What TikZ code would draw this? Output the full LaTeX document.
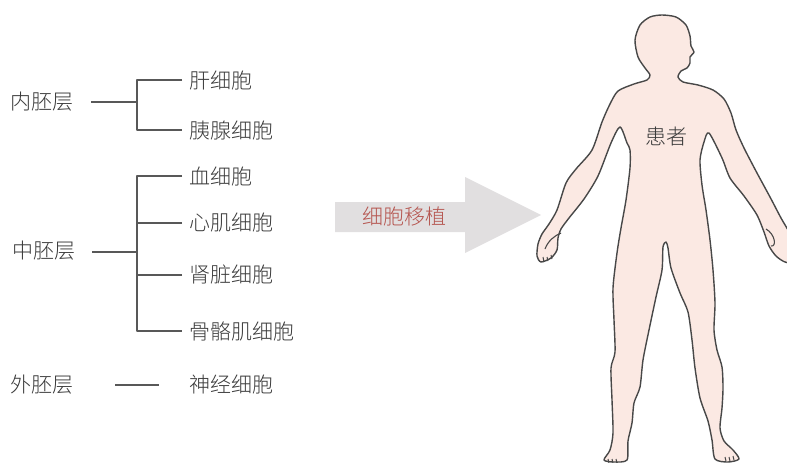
\documentclass[tikz,border=0pt]{standalone}
\usepackage{fontspec}
\newfontfamily\cjkfont{Noto Sans CJK SC Light}
\definecolor{txtgray}{RGB}{58,58,58}
\definecolor{linegray}{RGB}{88,88,88}
\definecolor{arrowgray}{RGB}{225,223,224}
\definecolor{arrowred}{RGB}{181,84,78}
\definecolor{skin}{RGB}{251,233,227}
\definecolor{outline}{RGB}{72,72,72}
\begin{document}
\begin{tikzpicture}[x=1pt,y=-1pt,line join=round,
  lbl/.style={font=\cjkfont\fontsize{21}{25}\selectfont,text=txtgray,inner sep=0pt},
  cell/.style={lbl,anchor=west},
  tree/.style={draw=linegray,line width=1.3pt},
  body/.style={fill=skin,draw=outline,line width=1.4pt},
  ]
\useasboundingbox (0,0) rectangle (787,463);
%% germ layers
\node[lbl] (endo) at (42,102) {内胚层};
\node[lbl] (meso) at (44,251) {中胚层};
\node[lbl] (ecto) at (42,385) {外胚层};
%% cell types
\node[cell] (liver) at (189,80) {肝细胞};
\node[cell] (pancreas) at (189,130) {胰腺细胞};
\node[cell] (blood) at (189,176) {血细胞};
\node[cell] (heart) at (189,223) {心肌细胞};
\node[cell] (kidney) at (189,275) {肾脏细胞};
\node[cell] (muscle) at (189,331) {骨骼肌细胞};
\node[cell] (nerve) at (189,384) {神经细胞};
%% tree
\coordinate (endoA) at (91,102);
\coordinate (endoJ) at (137,102);
\coordinate (mesoA) at (92,252);
\coordinate (mesoJ) at (137,252);
\coordinate (ectoA) at (115,385);
\coordinate (ectoB) at (159,385);
\draw[tree] (endoA) -- (endoJ);
\draw[tree] ([xshift=-7pt]liver.west) -| (endoJ) |- ([xshift=-7pt]pancreas.west);
\draw[tree] (mesoA) -- (mesoJ);
\draw[tree] ([xshift=-7pt]blood.west) -| (mesoJ) |- ([xshift=-7pt]muscle.west);
\draw[tree] ([xshift=-7pt]heart.west) -- (heart.west -| mesoJ);
\draw[tree] ([xshift=-7pt]kidney.west) -- (kidney.west -| mesoJ);
\draw[tree] (ectoA) -- (ectoB);
%% transplant arrow
\fill[arrowgray] (335,202) -- (465,202) -- (465,177) -- (541,215)
  -- (465,253) -- (465,232) -- (335,232) -- cycle;
\node[lbl,text=arrowred] (transplant) at (404,216) {细胞移植};
%% patient
\begin{scope}
\clip (0,0) rectangle (787,463);
\draw[body] plot[smooth cycle,tension=0.45] coordinates {
  (662,15) (676,17) (686,25) (690,36) (691,46) (694,52) (690,57) (690,63)
  (687,68) (681,71) (678,77) (683,82) (698,85) (713,90) (724,99) (731,113)
  (736,130) (744,148) (757,173) (770,197) (781,218) (793,240) (795,262)
  (785,262) (776,256) (769,246) (764,232) (757,215) (744,196) (730,178)
  (722,158) (709,133) (704,142) (700,160) (702,185) (706,210) (710,240)
  (713,270) (715,303) (714,330) (717,350) (722,367) (723,388) (722,408)
  (720,428) (724,441) (733,450) (739,459) (728,462) (715,459) (712,440)
  (708,421) (700,398) (695,368) (692,340) (688,312) (680,293) (671,268)
  (668,248) (666,242) (663,247) (662,270) (656,297) (649,330) (643,360)
  (640,387) (634,403) (632,423) (628,441) (627,460) (614,462) (604,460)
  (610,450) (613,433) (612,400) (611,368) (615,352) (614,320) (613,288)
  (617,253) (621,228) (626,200) (630,168) (630,150) (627,143) (620,127)
  (611,143) (598,176) (584,199) (569,218) (561,229) (558,238) (557,250)
  (551,258) (541,262) (537,256) (538,244) (542,234) (549,224) (557,210)
  (566,183) (576,169) (592,150) (602,122) (610,104) (618,91) (634,84)
  (647,80) (650,75) (645,68) (638,57) (635,40) (640,25) (650,17)};
% hands
\draw[outline,line width=1.1pt] (545,249) .. controls (548,241) and (554,236) .. (561,233);
\draw[outline,line width=1pt] (543,257) -- (544,262) (547,257) -- (548,261) (551,255) -- (552,259);
\draw[outline,line width=1.1pt] (766,229) .. controls (775,234) and (777,247) .. (771,246);
% toes
\draw[outline,line width=1pt] (608,459) -- (609,463) (612,459) -- (613,463) (616,459) -- (617,463)
  (725,457) -- (726,461) (729,457) -- (730,461) (733,456) -- (734,460);
\end{scope}
\node[lbl] (patient) at (666,137) {患者};
\end{tikzpicture}
\end{document}
